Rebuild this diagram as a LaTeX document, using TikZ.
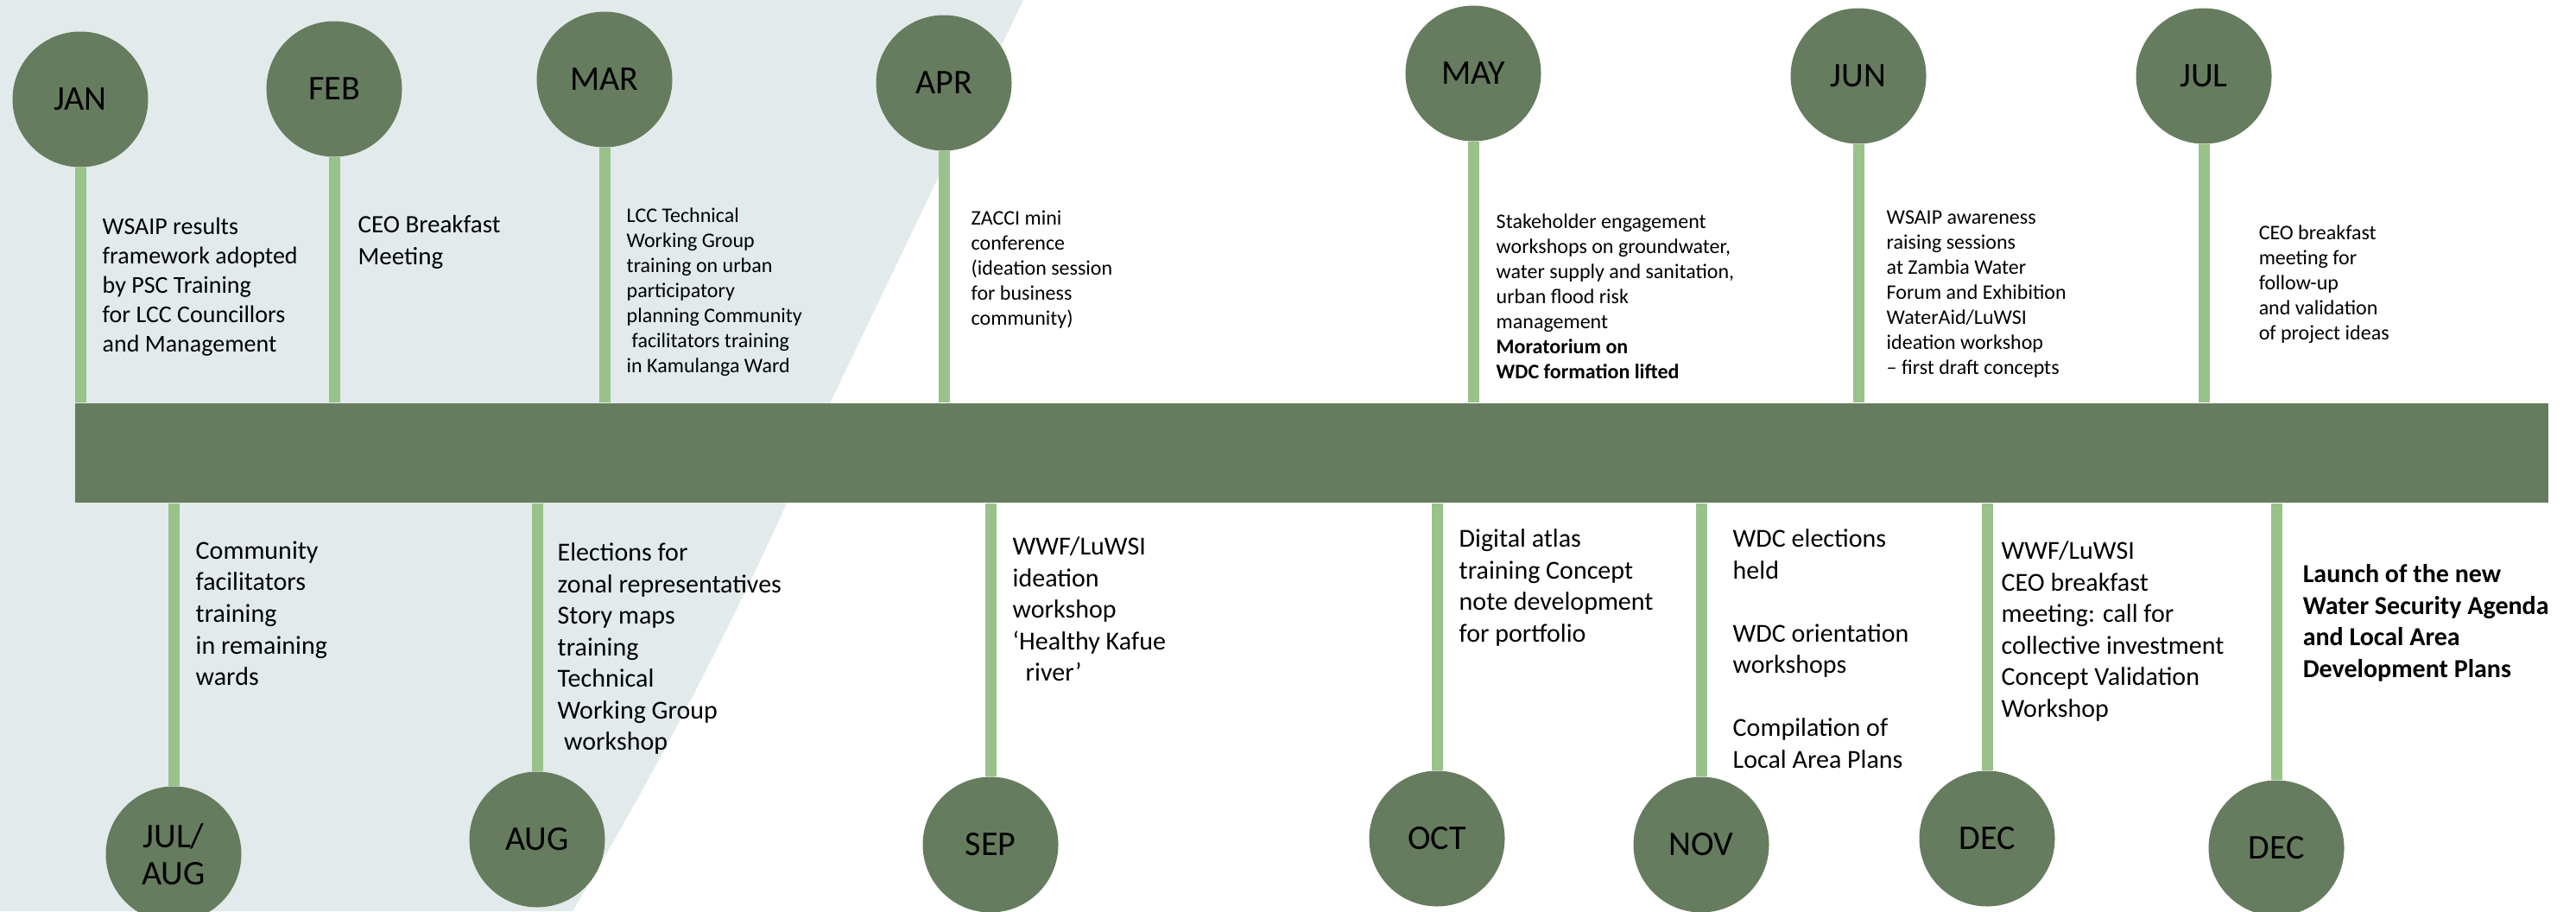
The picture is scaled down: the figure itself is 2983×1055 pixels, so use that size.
\documentclass[tikz,border=0pt]{standalone}
\usepackage{fontspec}
\setmainfont{Carlito}
\definecolor{leaf}{HTML}{667C5E}
\definecolor{stalk}{HTML}{98C28A}
\definecolor{haze}{HTML}{E2EAEB}
\begin{document}
\begin{tikzpicture}[x=0.1mm,y=-0.1mm]
  \tikzset{month/.style={circle,fill=leaf,minimum size=15.7mm,inner sep=0pt,align=center,font=\fontsize{11.4pt}{12.1pt}\selectfont},
    stem/.style={draw=stalk,line width=1.3mm},
    note/.style={anchor=north west,inner sep=0pt,align=left},
    snote/.style={note,font=\fontsize{6.83pt}{8.25pt}\selectfont},
    mnote/.style={note,font=\fontsize{7.97pt}{9.67pt}\selectfont},
    lnote/.style={note,font=\fontsize{8.54pt}{10.4pt}\selectfont}}
  \useasboundingbox (0,0) rectangle (2983,1055);
  \clip (0,0) rectangle (2983,1055);
  \fill[haze] (0,0) -- (1185,0) -- (961,467) .. controls (890,640) and (783,855) .. (663,1055) -- (0,1055) -- cycle;
  %timeline
  \node[fill=leaf,minimum width=286.4mm,minimum height=11.5mm,inner sep=0pt] (line) at (1519,524.5) {};
  %months above
  \node[month] (jan) at (93,115) {JAN};
  \node[month] (feb) at (387,103) {FEB};
  \node[month] (mar) at (700,92) {MAR};
  \node[month] (apr) at (1093,96) {APR};
  \node[month] (may) at (1706,85) {MAY};
  \node[month] (jun) at (2152,88) {JUN};
  \node[month] (jul) at (2552,88) {JUL};
  %months below
  \node[month] (julaug) at (201,989) {JUL/\\AUG};
  \node[month] (aug) at (622,972) {AUG};
  \node[month] (sep) at (1147,978) {SEP};
  \node[month] (oct) at (1664,971) {OCT};
  \node[month] (nov) at (1970,978) {NOV};
  \node[month] (dec) at (2301,971) {DEC};
  \node[month] (decb) at (2636,982) {DEC};
  %stems
  \foreach \m in {jan,feb,mar,apr,may,jun,jul}
    \draw[stem] (\m) -- (\m |- line.north);
  \foreach \m in {julaug,aug,sep,oct,nov,dec,decb}
    \draw[stem] (\m) -- (\m |- line.south);
  %events above
  \node[mnote] (tjan) at (118,251) {WSAIP results\\framework adopted\\by PSC Training\\for LCC Councillors\\and Management};
  \node[note,font=\fontsize{8.25pt}{10.5pt}\selectfont] (tfeb) at (414,249) {CEO Breakfast\\Meeting};
  \node[snote] (tmar) at (725,240) {LCC Technical\\Working Group\\training on urban\\participatory\\planning Community\\\hspace{0.25em}facilitators training\\in Kamulanga Ward};
  \node[snote] (tapr) at (1124,243) {ZACCI mini\\conference\\(ideation session\\for business\\community)};
  \node[snote] (tmay) at (1732,247) {Stakeholder engagement\\workshops on groundwater,\\water supply and sanitation,\\urban flood risk\\management\\\textbf{Moratorium on}\\\textbf{WDC formation lifted}};
  \node[snote] (tjun) at (2184,243) {WSAIP awareness\\raising sessions\\at Zambia Water\\Forum and Exhibition\\WaterAid/LuWSI\\ideation workshop\\– first draft concepts};
  \node[snote] (tjul) at (2615,260) {CEO breakfast\\meeting for\\follow-up\\and validation\\of project ideas};
  %events below
  \node[lnote] (tjulaug) at (226,626) {Community\\facilitators\\training\\in remaining\\wards};
  \node[lnote] (taug) at (645,628) {Elections for\\zonal representatives\\Story maps\\training\\Technical\\Working Group\\\hspace{0.25em}workshop};
  \node[lnote] (tsep) at (1172,621) {WWF/LuWSI\\ideation\\workshop\\‘Healthy Kafue\\\hspace{0.5em}river’};
  \node[lnote] (toct) at (1689,612) {Digital atlas\\training Concept\\note development\\for portfolio};
  \node[lnote] (tnov) at (2006,612) {WDC elections\\held\\[10.4pt]WDC orientation\\workshops\\[10.4pt]Compilation of\\Local Area Plans};
  \node[lnote] (tdec) at (2317,626) {WWF/LuWSI\\CEO breakfast\\meeting: call for\\collective investment\\Concept Validation\\Workshop};
  \node[lnote,font=\fontsize{8.54pt}{10.4pt}\selectfont\bfseries] (tdecb) at (2666,653) {Launch of the new\\Water Security Agenda\\and Local Area\\Development Plans};
\end{tikzpicture}
\end{document}
